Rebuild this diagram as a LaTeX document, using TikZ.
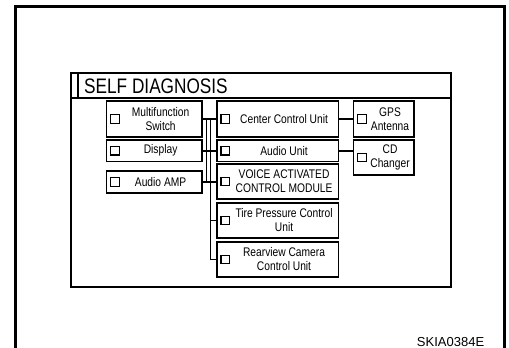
\documentclass[tikz,border=0pt]{standalone}
\usepackage{fontspec}
\setmainfont{Liberation Sans}[FakeStretch=0.82]
\newfontfamily\codefont{Liberation Sans}
\usetikzlibrary{calc}
\tikzset{
  unitbox/.style={draw, line width=1.6pt, inner sep=0pt, outer sep=0pt},
  chk/.style={draw, line width=1.2pt, minimum size=8.5pt, inner sep=0pt},
  lbl/.style={inner sep=0pt, align=center, font=\fontsize{12.5}{14}\selectfont},
  conn/.style={line width=1.6pt},
}
\newcommand{\ubox}[6]{%
  \node[unitbox, minimum width=#4pt, minimum height=#5pt] (#1) at (#2,#3) {};
  \node[chk] (#1-cb) at ($(#1.west)+(8.5,0)$) {};
  \node[lbl] (#1-t) at ($(#1.center)+(6.5,0)$) {#6};
}
\begin{document}
\begin{tikzpicture}[x=1pt,y=-1pt]
\useasboundingbox (0,0) rectangle (509,348);
% outer frame
\draw[line width=3pt] (15.3,348) -- (15.3,6.5) -- (504.3,6.5) -- (504.3,348);
% panel
\draw[line width=1.5pt] (71,73) rectangle (451,287);
\draw[line width=1.5pt] (71,98) -- (451,98);
\draw[line width=1.2pt] (78,73) -- (78,98);
\node[anchor=west, inner sep=0pt, font=\fontsize{21}{24}\selectfont] (title) at (84,86) {SELF DIAGNOSIS};
% boxes
\ubox{mfs}{154.1}{119}{95.2}{36}{Multifunction\\Switch}
\ubox{disp}{154.1}{150.75}{95.2}{21.5}{Display}
\ubox{amp}{154.1}{182}{95.2}{22}{Audio AMP}
\ubox{ccu}{277.55}{119}{121.7}{36}{Center Control Unit}
\ubox{au}{277.55}{150.75}{121.7}{21.5}{Audio Unit}
\ubox{vac}{277.55}{181.5}{121.7}{35}{VOICE ACTIVATED\\CONTROL MODULE}
\ubox{tire}{277.55}{220.5}{121.7}{35}{Tire Pressure Control\\Unit}
\ubox{rear}{277.55}{259.5}{121.7}{35}{Rearview Camera\\Control Unit}
\ubox{gps}{383.55}{119}{60.3}{36}{GPS\\Antenna}
\ubox{cd}{383.55}{157.5}{60.3}{35}{CD\\Changer}
% connectors
\coordinate (busL) at (206.5,0);
\coordinate (busR) at (210.5,0);
\draw[conn] (mfs.east) -- (ccu.west);
\draw[conn] (disp.east) -- (au.west);
\draw[conn] (amp.east) -- (amp.east -| vac.west);
\draw[conn] (busL |- mfs.east) -- (busL |- amp.east);
\draw[conn] (busR |- mfs.east) |- (rear.west);
\draw[conn] (busR |- tire.west) -- (tire.west);
\draw[conn] (ccu.east) -- (gps.west);
\draw[conn] (au.east) -- (au.east -| cd.west);
% code
\node[inner sep=0pt, font=\codefont\fontsize{13}{15}\selectfont] (code) at (450.6,342) {SKIA0384E};
\end{tikzpicture}
\end{document}
